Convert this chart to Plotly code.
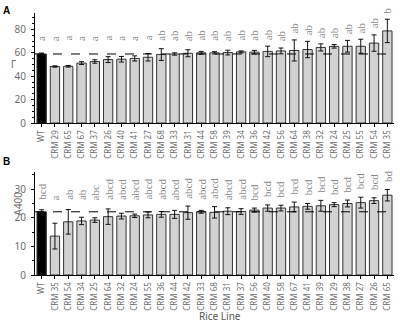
import plotly.graph_objects as go

# Panel A data (Γ)
cats_a = ["WT", "CRM 29", "CRM 65", "CRM 67", "CRM 37", "CRM 26", "CRM 40", "CRM 41", "CRM 27",
          "CRM 68", "CRM 33", "CRM 31", "CRM 44", "CRM 58", "CRM 39", "CRM 34", "CRM 36", "CRM 42",
          "CRM 56", "CRM 64", "CRM 38", "CRM 32", "CRM 24", "CRM 25", "CRM 55", "CRM 54", "CRM 35"]
vals_a = [59.0, 48.3, 48.5, 51.2, 52.6, 54.2, 54.5, 55.2, 56.2,
          58.5, 59.0, 59.6, 60.0, 60.0, 60.2, 60.8, 60.6, 61.2,
          61.6, 62.0, 62.8, 64.6, 65.5, 65.6, 65.6, 68.3, 78.7]
errs_a = [0.8, 0.6, 0.7, 1.2, 1.5, 2.5, 2.4, 2.2, 3.2,
          5.0, 1.0, 3.0, 1.2, 1.0, 2.0, 0.8, 1.5, 4.5,
          2.5, 9.0, 7.0, 3.0, 1.5, 5.0, 6.0, 7.0, 10.0]
letters_a = ["a", "a", "a", "a", "a", "a", "a", "a", "a",
             "ab", "ab", "ab", "ab", "ab", "ab", "ab", "ab", "ab",
             "ab", "ab", "ab", "ab", "ab", "ab", "ab", "ab", "b"]

# Panel B data (A400)
cats_b = ["WT", "CRM 35", "CRM 54", "CRM 34", "CRM 25", "CRM 64", "CRM 32", "CRM 24", "CRM 55",
          "CRM 36", "CRM 44", "CRM 42", "CRM 33", "CRM 68", "CRM 31", "CRM 37", "CRM 56", "CRM 40",
          "CRM 58", "CRM 67", "CRM 41", "CRM 39", "CRM 29", "CRM 38", "CRM 27", "CRM 26", "CRM 65"]
vals_b = [22.1, 13.6, 18.6, 18.9, 19.2, 20.4, 20.6, 20.7, 21.0,
          21.2, 21.2, 21.8, 22.1, 21.9, 22.3, 22.2, 22.7, 23.4,
          23.4, 23.8, 24.0, 24.2, 24.6, 25.0, 25.3, 26.0, 27.9]
errs_b = [0.7, 4.5, 4.3, 1.3, 0.8, 2.7, 1.0, 0.6, 1.0,
          1.0, 1.4, 2.3, 0.5, 2.0, 1.2, 1.0, 0.7, 1.1,
          1.0, 1.7, 1.0, 1.9, 0.7, 1.2, 1.9, 1.0, 2.0]
letters_b = ["bcd", "a", "ab", "ab", "abc", "abcd", "abcd", "abcd", "abcd",
             "abcd", "abcd", "abcd", "abcd", "abcd", "abcd", "abcd", "bcd", "bcd",
             "bcd", "bcd", "bcd", "bcd", "bcd", "bcd", "bcd", "bcd", "bd"]

GREY_FILL = "#d2d2d2"
EDGE = "#333333"
TXT = "#6e6e6e"
TICKFONT = dict(family="Noto Sans", size=8, color=TXT)


def colors(cats):
    return ["#000000" if c == "WT" else GREY_FILL for c in cats]


fig = go.Figure()
fig.add_trace(go.Bar(
    x=cats_a, y=vals_a, xaxis="x", yaxis="y",
    marker=dict(color=colors(cats_a), line=dict(color=EDGE, width=1)),
    error_y=dict(type="data", array=errs_a, color="#111111", thickness=1, width=2.5),
    showlegend=False))
fig.add_trace(go.Bar(
    x=cats_b, y=vals_b, xaxis="x2", yaxis="y2",
    marker=dict(color=colors(cats_b), line=dict(color=EDGE, width=1)),
    error_y=dict(type="data", array=errs_b, color="#111111", thickness=1, width=2.5),
    showlegend=False))

annotations = []
for c, v, e, t in zip(cats_a, vals_a, errs_a, letters_a):
    annotations.append(dict(x=c, y=max(v + e + 3.5, 68.5), xref="x", yref="y", text=t,
                            textangle=-90, yanchor="bottom", showarrow=False,
                            font=dict(family="Liberation Serif", size=11, color="#888888")))
for c, v, e, t in zip(cats_b, vals_b, errs_b, letters_b):
    annotations.append(dict(x=c, y=max(v + e + 2.0, 25.5), xref="x2", yref="y2", text=t,
                            textangle=-90, yanchor="bottom", showarrow=False,
                            font=dict(family="Liberation Serif", size=11, color="#888888")))

annotations += [
    dict(x=-0.095, y=1.04, xref="paper", yref="paper", text="<b>A</b>", showarrow=False,
         xanchor="left", yanchor="top", font=dict(family="Liberation Sans", size=10, color="#000")),
    dict(x=-0.095, y=0.46, xref="paper", yref="paper", text="<b>B</b>", showarrow=False,
         xanchor="left", yanchor="top", font=dict(family="Liberation Sans", size=10, color="#000")),
    dict(x=-0.072, y=0.84, xref="paper", yref="paper", text="Γ", showarrow=False,
         font=dict(family="Noto Sans", size=10, color=TXT)),
    dict(x=-0.072, y=0.22, xref="paper", yref="paper", text="A400", showarrow=False,
         textangle=-90, font=dict(family="Noto Sans", size=10, color=TXT)),
    dict(x=0.515, y=-0.19, xref="paper", yref="paper", text="Rice Line", showarrow=False,
         font=dict(family="Noto Sans", size=10, color="#555555")),
]

shapes = [
    dict(type="line", xref="x domain", yref="y", x0=0, x1=1, y0=vals_a[0], y1=vals_a[0],
         line=dict(color="#000", width=1, dash="dash")),
    dict(type="line", xref="x2 domain", yref="y2", x0=0, x1=1, y0=vals_b[0], y1=vals_b[0],
         line=dict(color="#000", width=1, dash="dash")),
]

xcommon = dict(type="category", tickangle=-90, tickfont=TICKFONT, showline=True,
               linecolor="#000", linewidth=1, ticks="outside", ticklen=3, tickcolor="#000",
               showgrid=False, zeroline=False)
ycommon = dict(showline=True, linecolor="#000", linewidth=1, ticks="outside", ticklen=3,
               tickcolor="#000", showgrid=False, zeroline=False, ticklabelstandoff=3,
               tickfont=dict(family="Noto Sans", size=10, color=TXT))

fig.update_layout(
    width=400, height=327,
    margin=dict(l=35, r=6, t=13, b=52),
    paper_bgcolor="white", plot_bgcolor="white",
    bargap=0.3,
    xaxis=dict(**xcommon, domain=[0, 1], anchor="y", range=[-0.5, 26.5]),
    yaxis=dict(**ycommon, domain=[0.58, 1], anchor="x", range=[0, 94], dtick=20,
               minor=dict(dtick=5, ticks="outside", ticklen=2, tickcolor="#000")),
    xaxis2=dict(**xcommon, domain=[0, 1], anchor="y2", range=[-0.5, 26.5]),
    yaxis2=dict(**ycommon, domain=[0, 0.393], anchor="x2", range=[0, 36], dtick=10,
                minor=dict(dtick=5, ticks="outside", ticklen=2, tickcolor="#000")),
    annotations=annotations,
    shapes=shapes,
)

fig.write_html("out.html", config={"displayModeBar": False},
               post_script="document.body.style.margin='0';document.body.style.padding='0';")
